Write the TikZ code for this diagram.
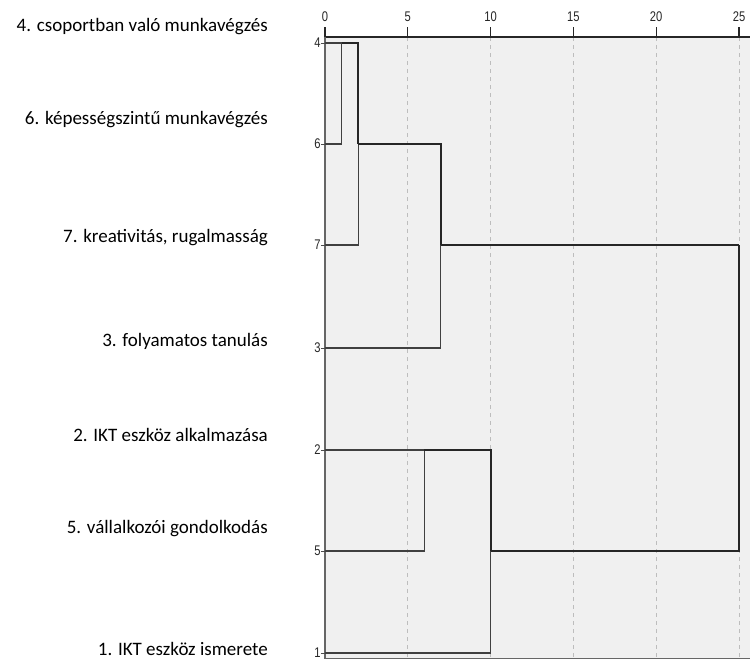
\documentclass[tikz,border=0pt]{standalone}
\usepackage{fontspec}
\setmainfont{Carlito}
\newfontfamily\axisfont[FakeStretch=0.8]{Liberation Sans}
\usetikzlibrary{positioning}
\definecolor{plotbg}{HTML}{F0F0F0}
\definecolor{gridgray}{HTML}{BDBDBD}

\begin{document}
\begin{tikzpicture}[x=1pt, y=-1pt,
    item/.style={anchor=east, inner sep=0pt, font=\fontsize{19}{22}\selectfont},
    num/.style={inner sep=0pt, font=\axisfont\fontsize{14}{16}\selectfont, text=black!85},
    leafline/.style={draw=black!75, line width=1.1pt},
    joinline/.style={draw=black!85, line width=1.8pt},
    gridline/.style={draw=gridgray, dash pattern=on 4pt off 4pt, line width=0.7pt}]
\useasboundingbox (0,0) rectangle (750,659);
\fill[plotbg] (325,37) rectangle (750,659);

% variable names
\node[item] (v4) at (268,26.5) {4. csoportban való munkavégzés};
\node[item] (v6) at (268,120) {6. képességszintű munkavégzés};
\node[item] (v7) at (268,237.5) {7. kreativitás, rugalmasság};
\node[item] (v3) at (268,341) {3. folyamatos tanulás};
\node[item] (v2) at (268,435) {2. IKT eszköz alkalmazása};
\node[item] (v5) at (268,528.5) {5. vállalkozói gondolkodás};
\node[item] (v1) at (268,648.5) {1. IKT eszköz ismerete};

\begin{scope}[shift={(325,0)}, x=16.56pt]
\foreach \t in {5,10,...,25} \draw[gridline] (\t,37) -- (\t,659);
\foreach \t in {0,5,...,25} {
  \node[num] (s\t) at (\t,16.5) {\t};
  \draw[black!85, line width=1.2pt] (\t,27) -- (\t,37);
}
\draw[black!85, line width=1.6pt] (0,37) -- (26,37);
\draw[black!60, line width=1.8pt] (0,37) -- (0,659);
\draw[black!60, line width=0.8pt] (0,658.5) -- (26,658.5);
% leaves
\foreach \n/\y in {4/43,6/144,7/245,3/348,2/450,5/551,1/653} {
  \coordinate (l\n) at (0,\y);
  \node[num, anchor=east] (r\n) at (-0.25,\y) {\n};
  \draw[black!70, line width=0.8pt] (r\n.east) -- (l\n);
}
% merges
\coordinate (m46) at (1,43);
\coordinate (m467) at (2,144);
\coordinate (m4673) at (7,245);
\coordinate (m25) at (6,450);
\coordinate (m251) at (10,551);
\coordinate (root) at (25,245);
\draw[leafline] (l4) -- (m46);
\draw[leafline] (l6) -| (m46);
\draw[leafline] (l7) -| (m467);
\draw[leafline] (l3) -| (m4673);
\draw[leafline] (l2) -- (m25);
\draw[leafline] (l5) -| (m25);
\draw[leafline] (l1) -| (m251);
\draw[joinline] (m46) -| (m467);
\draw[joinline] (m467) -| (m4673);
\draw[joinline] (m4673) -- (root);
\draw[joinline] (m25) -| (m251);
\draw[joinline] (m251) -| (root);
\end{scope}
\end{tikzpicture}
\end{document}
